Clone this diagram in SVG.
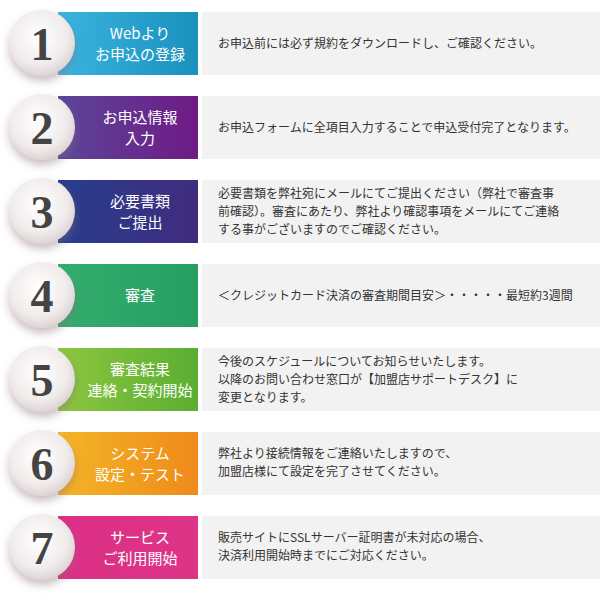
<svg xmlns="http://www.w3.org/2000/svg" width="600" height="610" viewBox="0 0 600 610">
<defs>
<linearGradient id="g1"><stop offset="0" stop-color="#3ab4e0"/><stop offset="1" stop-color="#1a90bd"/></linearGradient>
<linearGradient id="g2"><stop offset="0" stop-color="#5b4699"/><stop offset="1" stop-color="#6f1a85"/></linearGradient>
<linearGradient id="g3"><stop offset="0" stop-color="#283d8d"/><stop offset="1" stop-color="#402c7e"/></linearGradient>
<linearGradient id="g4"><stop offset="0" stop-color="#33ad6e"/><stop offset="1" stop-color="#279e62"/></linearGradient>
<linearGradient id="g5"><stop offset="0" stop-color="#8dc63f"/><stop offset="1" stop-color="#5aae32"/></linearGradient>
<linearGradient id="g6"><stop offset="0" stop-color="#f3b526"/><stop offset="1" stop-color="#ef8a1b"/></linearGradient>
<linearGradient id="g7"><stop offset="0" stop-color="#dc2f86"/><stop offset="1" stop-color="#de3486"/></linearGradient>
<radialGradient id="c" cx="0.45" cy="0.4" r="0.6"><stop offset="0" stop-color="#ffffff"/><stop offset="0.7" stop-color="#f1ecec"/><stop offset="1" stop-color="#ddd3d5"/></radialGradient>
<filter id="sh" x="-30%" y="-30%" width="160%" height="170%"><feDropShadow dx="0" dy="5" stdDeviation="4" flood-color="#8a7074" flood-opacity="0.45"/></filter>
</defs>
<style>
.d{fill:#f2f2f2}
.l{font-family:"Noto Sans CJK JP","Noto Sans",sans-serif;font-size:15px;fill:#fff;text-anchor:middle}
.t{font-family:"Noto Sans CJK JP","Noto Sans",sans-serif;font-size:12px;fill:#333}
.n{font-family:"Liberation Serif",serif;font-weight:bold;font-size:46px;fill:#444;text-anchor:middle}
</style>
<g id="step1"><rect x="58" y="12" width="140" height="63" fill="url(#g1)"/><rect class="d" x="202" y="12" width="398" height="63"/><circle cx="42" cy="43" r="33" fill="url(#c)" filter="url(#sh)"/><text class="n" x="42" y="60">1</text><text class="l" x="140" y="39">Webより</text><text class="l" x="140" y="60">お申込の登録</text><text class="t" x="218" y="48">お申込前には必ず規約をダウンロードし、ご確認ください。</text></g>
<g id="step2"><rect x="58" y="96" width="140" height="63" fill="url(#g2)"/><rect class="d" x="202" y="96" width="398" height="63"/><circle cx="42" cy="127" r="33" fill="url(#c)" filter="url(#sh)"/><text class="n" x="42" y="144">2</text><text class="l" x="140" y="123">お申込情報</text><text class="l" x="140" y="144">入力</text><text class="t" x="218" y="132">お申込フォームに全項目入力することで申込受付完了となります。</text></g>
<g id="step3"><rect x="58" y="180" width="140" height="63" fill="url(#g3)"/><rect class="d" x="202" y="180" width="398" height="63"/><circle cx="42" cy="211" r="33" fill="url(#c)" filter="url(#sh)"/><text class="n" x="42" y="228">3</text><text class="l" x="140" y="207">必要書類</text><text class="l" x="140" y="228">ご提出</text><text class="t" x="218" y="198">必要書類を弊社宛にメールにてご提出ください（弊社で審査事</text><text class="t" x="218" y="216">前確認）。審査にあたり、弊社より確認事項をメールにてご連絡</text><text class="t" x="218" y="234">する事がございますのでご確認ください。</text></g>
<g id="step4"><rect x="58" y="264" width="140" height="63" fill="url(#g4)"/><rect class="d" x="202" y="264" width="398" height="63"/><circle cx="42" cy="295" r="33" fill="url(#c)" filter="url(#sh)"/><text class="n" x="42" y="312">4</text><text class="l" x="140" y="301">審査</text><text class="t" x="218" y="300">＜クレジットカード決済の審査期間目安＞・・・・・最短約3週間</text></g>
<g id="step5"><rect x="58" y="348" width="140" height="63" fill="url(#g5)"/><rect class="d" x="202" y="348" width="398" height="63"/><circle cx="42" cy="379" r="33" fill="url(#c)" filter="url(#sh)"/><text class="n" x="42" y="396">5</text><text class="l" x="140" y="375">審査結果</text><text class="l" x="140" y="396">連絡・契約開始</text><text class="t" x="218" y="366">今後のスケジュールについてお知らせいたします。</text><text class="t" x="218" y="384">以降のお問い合わせ窓口が【加盟店サポートデスク】に</text><text class="t" x="218" y="402">変更となります。</text></g>
<g id="step6"><rect x="58" y="432" width="140" height="63" fill="url(#g6)"/><rect class="d" x="202" y="432" width="398" height="63"/><circle cx="42" cy="463" r="33" fill="url(#c)" filter="url(#sh)"/><text class="n" x="42" y="480">6</text><text class="l" x="140" y="459">システム</text><text class="l" x="140" y="480">設定・テスト</text><text class="t" x="218" y="458">弊社より接続情報をご連絡いたしますので、</text><text class="t" x="218" y="476">加盟店様にて設定を完了させてください。</text></g>
<g id="step7"><rect x="58" y="516" width="140" height="63" fill="url(#g7)"/><rect class="d" x="202" y="516" width="398" height="63"/><circle cx="42" cy="547" r="33" fill="url(#c)" filter="url(#sh)"/><text class="n" x="42" y="564">7</text><text class="l" x="140" y="543">サービス</text><text class="l" x="140" y="564">ご利用開始</text><text class="t" x="218" y="542">販売サイトにSSLサーバー証明書が未対応の場合、</text><text class="t" x="218" y="560">決済利用開始時までにご対応ください。</text></g>
<g id="connectors"/>
</svg>
